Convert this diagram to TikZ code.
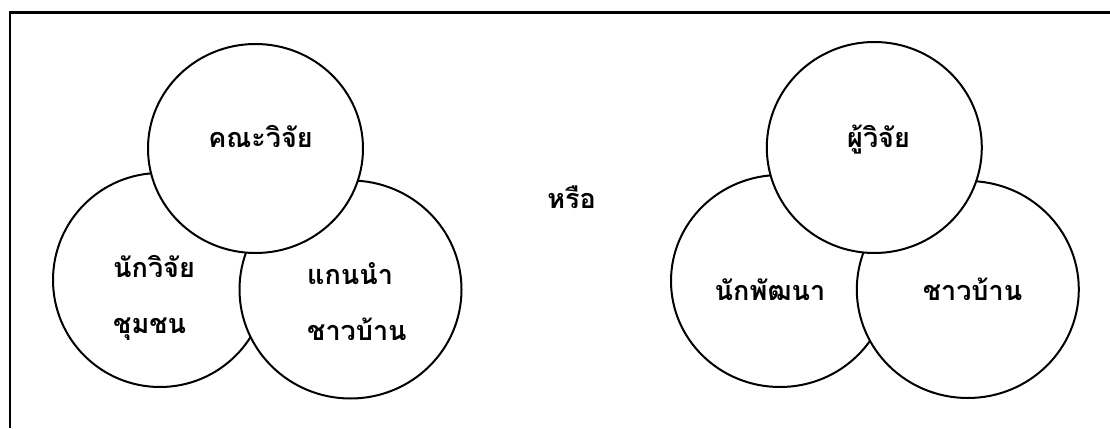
\documentclass[tikz,border=0pt]{standalone}
\usepackage{fontspec}
\usepackage{tikz}
\usetikzlibrary{shapes.geometric}
\newfontfamily\thaifont[Script=Thai]{Loma}

\tikzset{
  bubble/.style={draw, ellipse, fill=white, line width=2pt, inner sep=0pt},
  word/.style={font=\thaifont\bfseries\fontsize{27}{56}\selectfont, inner sep=0pt, align=left}
}

\begin{document}
\begin{tikzpicture}[x=1pt, y=-1pt]
        \useasboundingbox (0,0) rectangle (1110,428);
        \draw[line width=2.2pt] (9.7,428) -- (9.7,12.5) -- (1110,12.5);

        % first group
        \node[bubble, minimum width=214pt, minimum height=214pt] (commres) at (160,280) {};
        \node[bubble, minimum width=222pt, minimum height=218pt] (leaders) at (350.5,289.5) {};
        \node[bubble, minimum width=215pt, minimum height=209pt] (team) at (255.5,148.5) {};

        \node[word, anchor=base] (teamtxt) at (260.5,147) {คณะวิจัย};
        \node[word, anchor=base west] (commrestxt) at (113,333) {นักวิจัย\\ชุมชน};
        \node[word, anchor=base west] (leaderstxt) at (307,340) {แกนนำ\\ชาวบ้าน};

        \node[word, anchor=base] (ortxt) at (571.5,208) {หรือ};

        % second group
        \node[bubble, minimum width=218pt, minimum height=212pt] (devel) at (780,281) {};
        \node[bubble, minimum width=222pt, minimum height=217pt] (villagers) at (967.8,289.5) {};
        \node[bubble, minimum width=215pt, minimum height=211pt] (researcher) at (874.3,147.5) {};

        \node[word, anchor=base] (researchertxt) at (878.5,147) {ผู้วิจัย};
        \node[word, anchor=base] (develtxt) at (770,300) {นักพัฒนา};
        \node[word, anchor=base] (villagerstxt) at (972.5,300) {ชาวบ้าน};
    \end{tikzpicture}
\end{document}
